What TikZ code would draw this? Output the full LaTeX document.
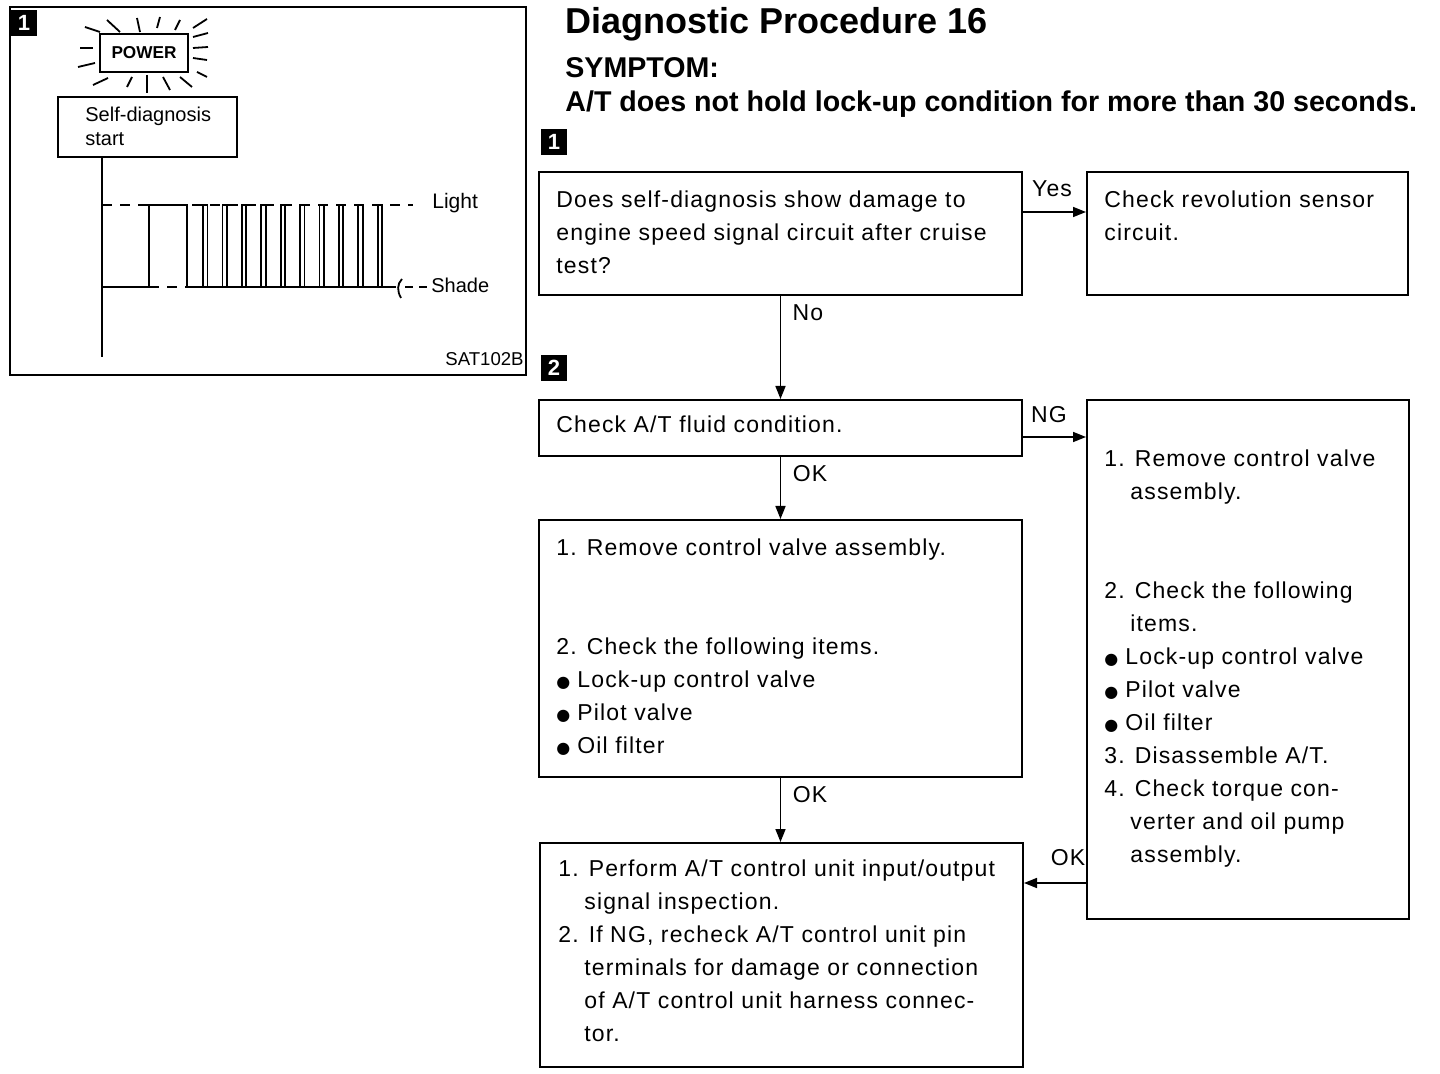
\documentclass[tikz,border=0pt]{standalone}
\usepackage{fontspec}
\setmainfont{Liberation Sans}
\newfontfamily\bodyfam[LetterSpace=5]{Liberation Sans}
\newfontfamily\symfont{DejaVu Sans}
\usetikzlibrary{arrows.meta,fit}
\newcommand\bodyf{\bodyfam\fontsize{11.5}{16.5}\selectfont}
\newcommand\blt{\makebox[10.5pt][l]{\symfont\fontsize{8}{8}\selectfont ●}}
\newcommand\ind{\hspace*{13pt}}
\begin{document}
\begin{tikzpicture}[x=0.5pt,y=-0.5pt,
  box/.style={draw, line width=1pt, inner sep=0pt},
  txt/.style={anchor=north west, inner sep=0pt, align=left, font=\bodyf},
  lbl/.style={inner sep=0pt, font=\bodyf},
  arr/.style={-{Triangle[length=6.5pt,width=5pt]}, line width=0.8pt},
  badge/.style={fill=black, minimum size=13pt, inner sep=0pt, text=white, font=\bfseries\fontsize{11}{11}\selectfont},
  ray/.style={line width=0.9pt}]
\useasboundingbox (0,0) rectangle (1440,1074);

% ---------- left panel ----------
\node[box, fit={(10,7) (526,375)}] (panel) {};
\node[badge] (pb1) at (24,23) {1};
\node[draw, line width=1.3pt, minimum width=44pt, minimum height=19pt, inner sep=0pt,
      font=\bfseries\fontsize{8.6}{10}\selectfont] (pw) at (144,53) {POWER};
% rays
\foreach \a/\b/\c/\d in {107/20/120/32, 137/18/140/32, 160/17/157/28, 180/20/175/30, 207/19/193/28,
  85/27/100/32, 80/48/93/48, 78/67/95/63,
  193/37/208/33, 193/48/208/47, 193/58/207/60, 197/72/207/77,
  93/85/108/78, 127/87/132/77, 147/75/147/93, 163/77/170/90, 180/77/192/87}
  \draw[ray] (\a,\b) -- (\c,\d);
\node[draw, line width=1pt, fit={(58,97) (237,157)}, inner sep=0pt] (sd) {};
\node[anchor=north west, inner sep=0pt, align=left, font=\fontsize{10}{12}\selectfont] (sdt) at (85,104) {\strut Self-diagnosis\\start};
\coordinate (ax0) at (102,157);
\coordinate (ax1) at (102,357);
\draw[line width=0.9pt] (ax0) -- (ax1);
% light level
\draw[line width=0.9pt, dash pattern=on 5pt off 4pt] (102,205) -- (413,205);
% shade level
\draw[line width=0.9pt] (102,287) -- (149,287);
\draw[line width=0.9pt, dash pattern=on 5pt off 4pt] (149,287) -- (187,287);
\draw[line width=0.9pt] (187,287) -- (396,287);
\draw[line width=0.9pt] (402,279) .. controls (397,284) and (397,291) .. (401,298);
\draw[line width=0.9pt, dash pattern=on 4pt off 3pt] (405,287) -- (427,287);
% pulses
\draw[line width=0.9pt] (149,287) -- (149,205) -- (187,205) -- (187,287);
\foreach \k in {0,...,9}
  \draw[line width=0.9pt] ({203+19.4*\k},287) -- ({203+19.4*\k},205) -- ({207.5+19.4*\k},205) -- ({207.5+19.4*\k},287);
\node[anchor=west, inner sep=0pt, font=\fontsize{10.5}{12}\selectfont] (light) at (432,203) {Light};
\node[anchor=west, inner sep=0pt, font=\fontsize{10}{12}\selectfont] (shade) at (431,285) {Shade};
\node[anchor=south east, inner sep=0pt, font=\fontsize{9.3}{11}\selectfont] (sat) at (524,366) {SAT102B};

% ---------- headings ----------
\node[anchor=base west, inner sep=0pt, font=\bfseries\fontsize{18}{20}\selectfont] (title) at (565,34) {Diagnostic Procedure 16};
\node[anchor=base west, inner sep=0pt, font=\bfseries\fontsize{14.3}{17}\selectfont] (symp) at (565,78) {SYMPTOM:};
\node[anchor=base west, inner sep=0pt, font=\bfseries\fontsize{14.3}{17}\selectfont] (sympt) at (565,112) {A/T does not hold lock-up condition for more than 30 seconds.};
\node[badge] (b1) at (554,142) {1};
\node[badge] (b2) at (554,368) {2};

% ---------- flow boxes ----------
\node[box, fit={(539,172) (1022,295)}] (q1) {};
\node[box, fit={(1087,172) (1408,295)}] (yes) {};
\node[box, fit={(539,400) (1022,456)}] (q2) {};
\node[box, fit={(1087,400) (1409,919)}] (ng) {};
\node[box, fit={(539,520) (1022,777)}] (q3) {};
\node[box, fit={(540,843) (1023,1067)}] (q4) {};

\node[txt] (q1t) at (556,184) {\strut Does self-diagnosis show damage to\\engine speed signal circuit after cruise\\test?};
\node[txt] (yest) at (1104,184) {\strut Check revolution sensor\\circuit.};
\node[txt] (q2t) at (556,409) {\strut Check A/T fluid condition.};
\node[txt] (ngt) at (1104,443) {\strut 1. Remove control valve\\\ind assembly.\\[33pt]
2. Check the following\\\ind items.\\\blt Lock-up control valve\\\blt Pilot valve\\\blt Oil filter\\
3. Disassemble A/T.\\4. Check torque con-\\\ind verter and oil pump\\\ind assembly.};
\node[txt] (q3t) at (556,532) {\strut 1. Remove control valve assembly.\\[33pt]
2. Check the following items.\\\blt Lock-up control valve\\\blt Pilot valve\\\blt Oil filter};
\node[txt] (q4t) at (558,853) {\strut 1. Perform A/T control unit input/output\\\ind signal inspection.\\
2. If NG, recheck A/T control unit pin\\\ind terminals for damage or connection\\\ind of A/T control unit harness connec-\\\ind tor.};

% ---------- connectors ----------
\draw[arr] (q1.east |- 0,212) -- (yes.west |- 0,212);
\draw[arr] (q1.south) -- (q1.south |- q2.north);
\draw[arr] (q2.east |- 0,437) -- (ng.west |- 0,437);
\draw[arr] (q2.south) -- (q2.south |- q3.north);
\draw[arr] (q3.south) -- (q3.south |- q4.north);
\draw[arr] (ng.west |- 0,883) -- (q4.east |- 0,883);

\node[lbl] (lyes) at (1052,189) {Yes};
\node[lbl] (lno) at (808,313) {No};
\node[lbl] (lng) at (1049,415) {NG};
\node[lbl] (lok1) at (810,474) {OK};
\node[lbl] (lok2) at (810,795) {OK};
\node[lbl] (lok3) at (1068,858) {OK};
\end{tikzpicture}
\end{document}
